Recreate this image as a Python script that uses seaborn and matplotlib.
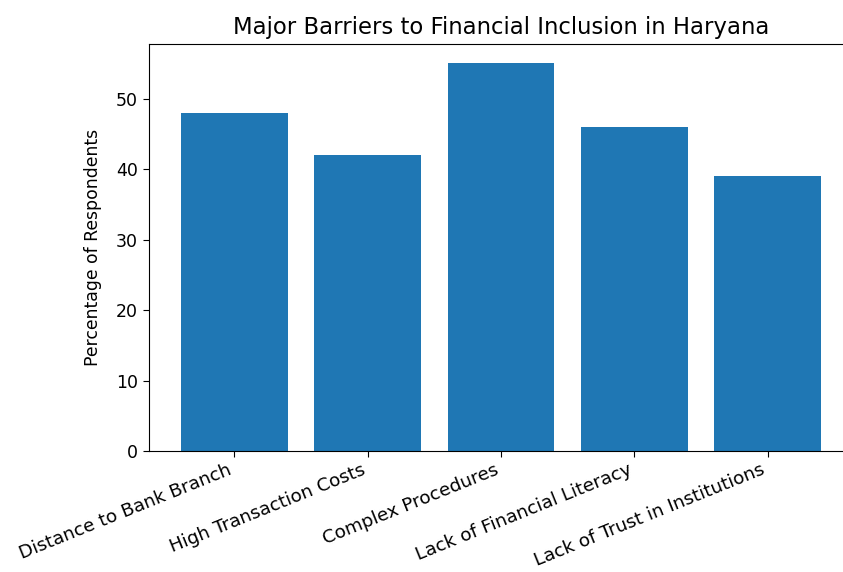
import matplotlib
matplotlib.use("Agg")
import matplotlib.pyplot as plt
import seaborn as sns
import pandas as pd

categories = ["Distance to Bank Branch", "High Transaction Costs", "Complex Procedures",
              "Lack of Financial Literacy", "Lack of Trust in Institutions"]
values = [48, 42, 55, 46, 39]

df = pd.DataFrame({"Barrier": categories, "Percentage": values})

fig = plt.figure(figsize=(8.43, 5.72), dpi=100)
W, H = 843, 572
ax = fig.add_axes([149 / W, 1 - 451 / H, (853 - 149) / W, (451 - 44) / H])

sns.barplot(data=df, x="Barrier", y="Percentage", color="#1f77b4", saturation=1,
            width=0.8, ax=ax)
ax.set_xlim(-0.64, 4.64)
ax.set_ylim(0, 57.75)
ax.set_title("Major Barriers to Financial Inclusion in Haryana", fontsize=16.4, pad=7)
ax.set_xlabel("")
ax.set_ylabel("Percentage of Respondents", fontsize=12.4, labelpad=10)
ax.tick_params(axis="y", labelsize=12.5, length=4.5)
ax.tick_params(axis="x", labelsize=13.2, length=4.5, pad=2.5)
plt.setp(ax.get_xticklabels(), rotation=22, ha="right", rotation_mode="default")

fig.savefig("out.png", dpi=100)
